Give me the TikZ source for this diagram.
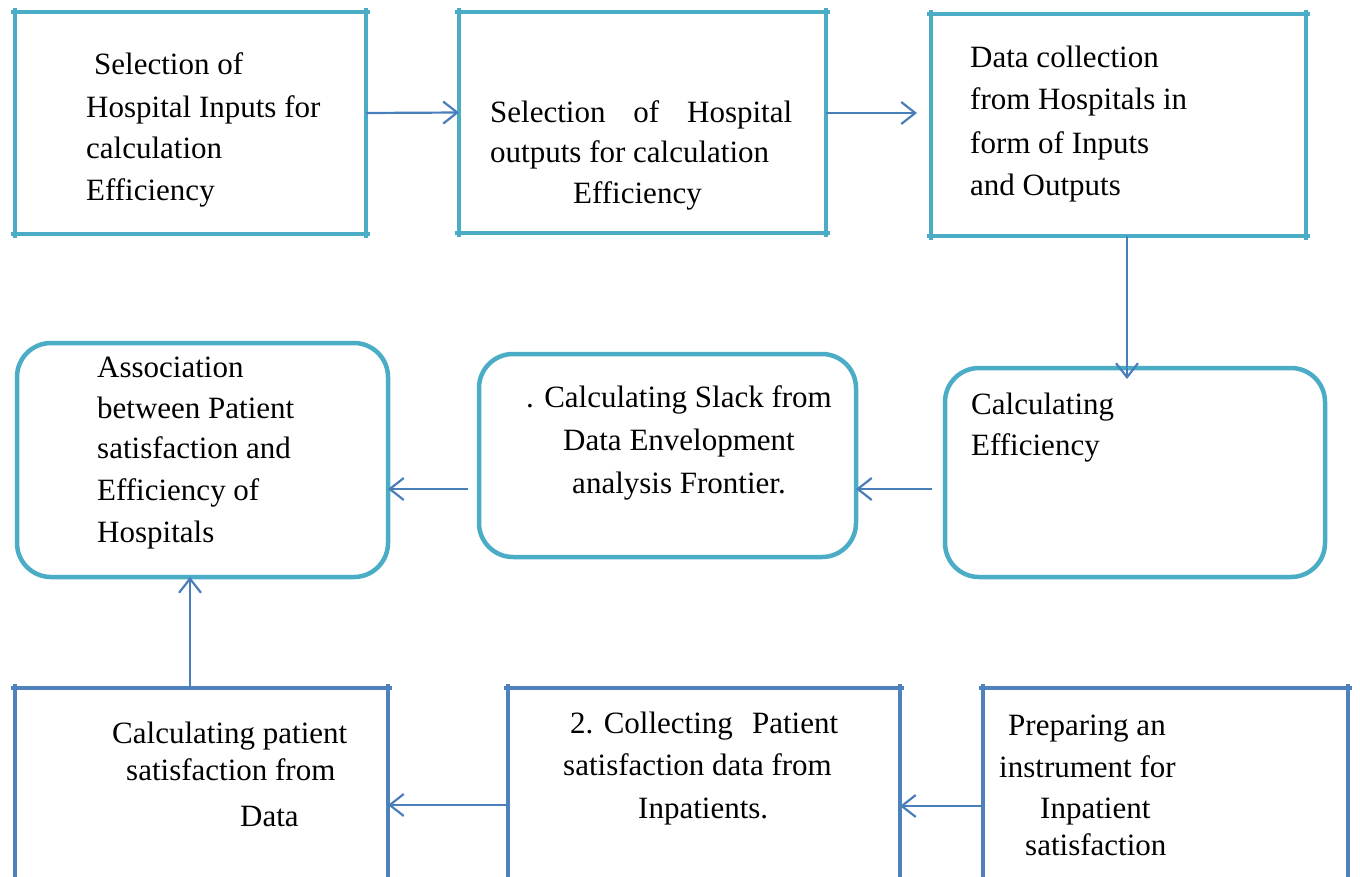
\documentclass[tikz,border=0pt]{standalone}
\usepackage{fontspec}
\setmainfont{Liberation Serif}
\usetikzlibrary{arrows.meta}
\definecolor{cyanline}{RGB}{75,172,198}
\definecolor{blueline}{RGB}{79,129,189}
\definecolor{arrowblue}{RGB}{74,126,187}
\newcommand\boxfont{\fontsize{31}{42}\selectfont}

% square frame drawn as separate sides whose ends overshoot the corners
\newcommand\openframe[2]{%
  \draw[rimline,#2] ([xshift=-4pt]#1.north west) -- ([xshift=4pt]#1.north east);
  \draw[rimline,#2] ([yshift=4pt]#1.north west) -- ([yshift=-4pt]#1.south west);
  \draw[rimline,#2] ([yshift=4pt]#1.north east) -- ([yshift=-4pt]#1.south east);}
\newcommand\closedframe[2]{%
  \openframe{#1}{#2}%
  \draw[rimline,#2] ([xshift=-4pt]#1.south west) -- ([xshift=4pt]#1.south east);}

\begin{document}
\begin{tikzpicture}[x=1pt,y=-1pt,
  sqframe/.style={rectangle,inner sep=0pt,outer sep=0pt,anchor=north west},
  rframe/.style={sqframe,draw=cyanline,line width=4.5pt,rounded corners=34pt},
  rimline/.style={line width=4pt},
  flowarrow/.style={draw=arrowblue,line width=2.2pt,
    -{Straight Barb[length=14pt,width=22pt,line width=2.2pt]}},
  txt/.style={inner sep=0pt,anchor=base west,font=\boxfont},
  ctxt/.style={txt,anchor=base}]

\useasboundingbox (0,0) rectangle (1360,876);
\clip (0,0) rectangle (1360,876);

% ---- top row: square frames
\node[sqframe,minimum width=351pt,minimum height=222pt] (b1) at (15,12) {};
\node[sqframe,minimum width=367pt,minimum height=221pt] (b2) at (459,12) {};
\node[sqframe,minimum width=375pt,minimum height=222pt] (b3) at (931,14) {};
\closedframe{b1}{cyanline}
\closedframe{b2}{cyanline}
\closedframe{b3}{cyanline}

% ---- middle row: rounded frames
\node[rframe,minimum width=380pt,minimum height=209pt] (b4) at (945,368) {};
\node[rframe,minimum width=377pt,minimum height=203pt] (b5) at (479,354) {};
\node[rframe,minimum width=371pt,minimum height=234pt] (b6) at (17,343) {};

% ---- bottom row: frames running off the lower edge
\node[sqframe,minimum width=373pt,minimum height=200pt] (b7) at (15,688) {};
\node[sqframe,minimum width=392pt,minimum height=200pt] (b8) at (508,688) {};
\node[sqframe,minimum width=365pt,minimum height=200pt] (b9) at (983,688) {};
\openframe{b7}{blueline}
\openframe{b8}{blueline}
\openframe{b9}{blueline}

% ---- texts
\node[txt] (t1a) at (94,74)  {Selection of};
\node[txt] (t1b) at (86,117) {Hospital Inputs for};
\node[txt] (t1c) at (86,158) {calculation};
\node[txt] (t1d) at (86,200) {Efficiency};

\node[txt] (t2a) at (490,122) {\makebox[302pt][s]{Selection of Hospital}};
\node[txt] (t2b) at (490,162) {outputs for calculation};
\node[txt] (t2c) at (573,203) {Efficiency};

\node[txt] (t3a) at (970,67)  {Data collection};
\node[txt] (t3b) at (970,109) {from Hospitals in};
\node[txt] (t3c) at (970,153) {form of Inputs};
\node[txt] (t3d) at (970,195) {and Outputs};

\node[txt] (t4a) at (971,414) {Calculating};
\node[txt] (t4b) at (971,455) {Efficiency};

\node[ctxt] (t5a) at (679,407) {. Calculating Slack from};
\node[ctxt] (t5b) at (679,450) {Data Envelopment};
\node[ctxt] (t5c) at (679,493) {analysis Frontier.};

\node[txt] (t6a) at (97,377) {Association};
\node[txt] (t6b) at (97,418) {between Patient};
\node[txt] (t6c) at (97,458) {satisfaction and};
\node[txt] (t6d) at (97,500) {Efficiency of};
\node[txt] (t6e) at (97,542) {Hospitals};

\node[txt] (t7a) at (112,743) {Calculating patient};
\node[txt] (t7b) at (126,780) {satisfaction from};
\node[txt] (t7c) at (240,826) {Data};

\node[txt] (t8a) at (570,733) {\makebox[268pt][l]{2. Collecting\hfill Patient}};
\node[txt] (t8b) at (563,775) {satisfaction data from};
\node[txt] (t8c) at (638,818) {Inpatients.};

\node[txt] (t9a) at (1008,735) {Preparing an};
\node[txt] (t9b) at (999,777)  {instrument for};
\node[txt] (t9c) at (1040,818) {Inpatient};
\node[txt] (t9d) at (1025,855) {satisfaction};

% ---- connectors
\draw[flowarrow] ([yshift=10pt]b1.east) -- ([yshift=10pt]b2.west);

\coordinate (a2) at ([yshift=9.5pt]b2.east);
\draw[flowarrow,shorten >=14pt] (a2) -- (a2 -| b3.west);

\coordinate (a3) at ([xshift=8.5pt]b3.south);
\draw[flowarrow,shorten >=-11pt] (a3) -- (a3 |- b4.north);

\coordinate (a4) at ([yshift=-16.5pt]b4.west);
\draw[flowarrow,shorten <=13pt] (a4) -- (a4 -| b5.east);

\coordinate (a5) at ([yshift=-33.5pt]b5.west);
\draw[flowarrow,shorten <=11pt] (a5) -- (a5 -| b6.east);

\coordinate (a6) at ([xshift=-11.5pt]b7.north);
\draw[flowarrow] (a6) -- (a6 |- b6.south);

\coordinate (a7) at ([yshift=-18pt]b9.west);
\draw[flowarrow] (a7) -- (a7 -| b8.east);

\coordinate (a8) at ([yshift=-17pt]b8.west);
\draw[flowarrow] (a8) -- (a8 -| b7.east);

\end{tikzpicture}
\end{document}
